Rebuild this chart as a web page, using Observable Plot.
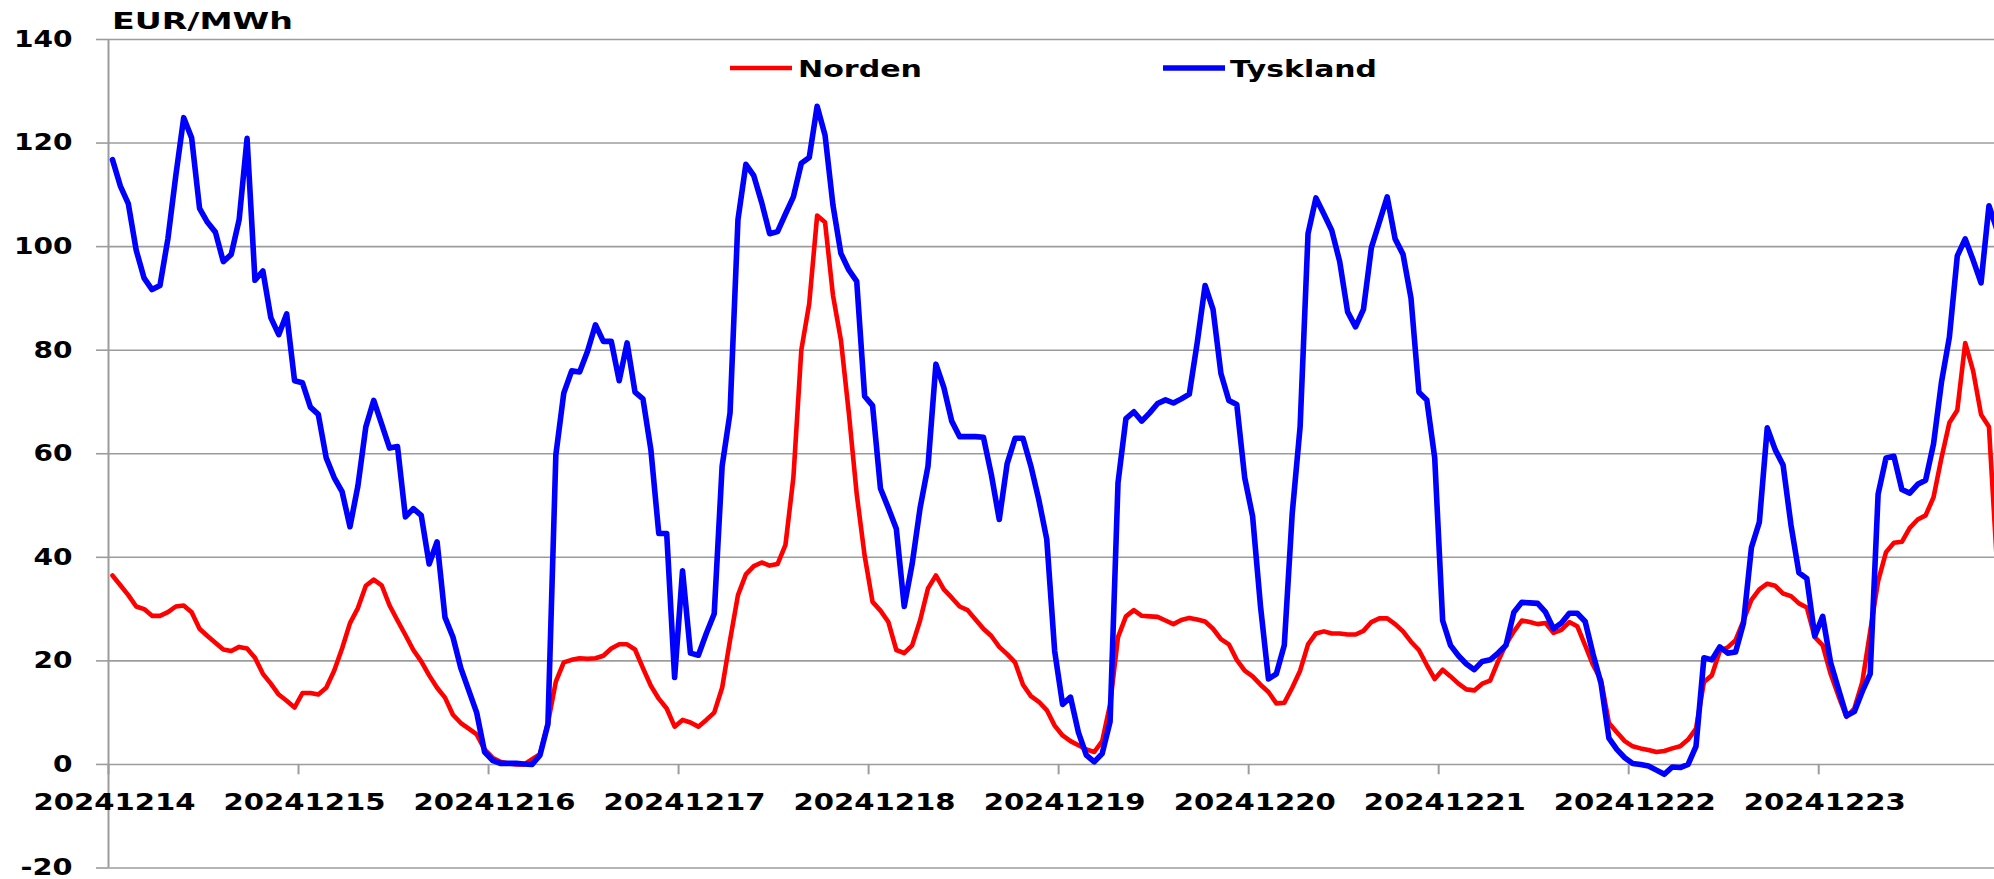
<!DOCTYPE html>
<html><head><meta charset="utf-8">
<script src="https://cdn.jsdelivr.net/npm/d3@7"></script>
<script src="https://cdn.jsdelivr.net/npm/@observablehq/plot@0.6"></script>
<style>
html,body{margin:0;padding:0;background:#fff;overflow:hidden}
#chart svg{display:block}
</style></head><body><div id="chart"></div>
<script>
const unitLabel = "EUR/MWh";
const seriesNames = ["Norden", "Tyskland"];
const seriesColors = ["#ff0000", "#0000ff"];
const dayLabels = ["20241214","20241215","20241216","20241217","20241218","20241219","20241220","20241221","20241222","20241223"];
const yTicks = [-20, 0, 20, 40, 60, 80, 100, 120, 140];

// hourly prices, hour 0 = 2024-12-14 00:00
const norden = [
36.5,34.6,32.7,30.5,30.0,28.7,28.7,29.4,30.5,30.7,29.4,26.2,24.8,23.5,22.2,21.9,22.7,22.4,20.6,17.5,15.6,13.5,12.3,11.0,
13.8,13.8,13.5,14.8,18.1,22.4,27.3,30.2,34.5,35.7,34.6,30.7,27.8,25.0,22.1,19.9,17.2,14.8,12.9,9.6,8.0,6.9,5.8,2.9,
1.3,0.5,0.2,0.0,0.0,1.0,2.0,8.0,16.0,19.7,20.2,20.5,20.4,20.5,21.0,22.4,23.2,23.2,22.2,18.6,15.2,12.7,10.8,7.3,
8.6,8.1,7.3,8.6,10.0,14.8,24.0,32.7,36.7,38.3,39.0,38.4,38.7,42.4,55.4,80.0,89.0,106.0,104.7,90.6,82.0,67.9,52.2,40.3,
31.4,29.7,27.5,22.1,21.5,23.0,27.8,34.0,36.5,33.8,32.2,30.5,29.8,28.0,26.2,24.8,22.7,21.3,19.7,15.4,13.2,12.1,10.5,7.5,
5.6,4.5,3.7,2.9,2.4,4.5,11.6,24.6,28.6,29.8,28.7,28.6,28.5,27.8,27.1,27.9,28.3,28.0,27.6,26.2,24.2,23.2,20.2,18.1,
17.0,15.4,14.0,11.8,11.9,14.8,18.1,23.2,25.3,25.7,25.3,25.3,25.1,25.1,25.8,27.5,28.2,28.2,27.1,25.7,23.7,22.1,19.2,16.5,
18.3,17.0,15.6,14.5,14.3,15.6,16.2,19.9,23.2,25.7,27.8,27.5,27.1,27.3,25.4,26.0,27.5,26.7,23.0,19.2,16.3,8.0,6.2,4.5,
3.5,3.1,2.8,2.4,2.6,3.1,3.5,4.8,6.9,15.9,17.2,21.9,22.6,24.0,27.8,31.8,33.8,34.9,34.5,33.0,32.5,31.1,30.3,24.6,
23.0,17.5,13.2,9.2,10.8,15.9,25.7,35.4,41.0,42.8,43.0,45.7,47.3,48.1,51.6,59.2,66.0,68.4,81.4,76.0,67.6,65.2,39.0
];
const tyskland = [
116.8,111.7,108.3,99.3,93.9,91.7,92.5,101.5,113.7,124.9,121.0,107.4,104.7,102.8,97.1,98.5,105.2,120.9,93.5,95.3,86.3,83.0,87.0,74.1,
73.7,69.0,67.6,59.2,55.4,52.7,45.9,53.8,65.2,70.3,65.7,61.1,61.4,47.8,49.4,48.1,38.7,43.0,28.4,24.6,18.6,14.3,10.0,2.4,
0.8,0.2,0.2,0.2,0.1,0.0,1.8,7.8,59.8,71.7,76.0,75.8,79.8,84.9,81.7,81.7,74.1,81.4,71.9,70.6,60.8,44.6,44.6,16.8,
37.4,21.5,21.1,25.3,29.1,57.6,67.9,105.2,115.9,113.7,108.5,102.5,102.9,106.3,109.6,116.1,117.2,127.1,121.5,108.0,98.7,95.5,93.3,71.1,
69.3,53.3,49.5,45.5,30.5,38.7,49.5,57.6,77.3,72.8,66.3,63.3,63.3,63.3,63.2,56.0,47.3,58.1,63.0,63.0,57.6,51.1,43.5,21.9,
11.6,13.0,6.2,1.8,0.5,2.1,8.3,54.4,66.8,68.1,66.3,67.9,69.7,70.4,69.8,70.6,71.5,81.4,92.5,87.9,75.5,70.3,69.5,55.4,
47.9,30.5,16.5,17.5,23.0,48.4,65.2,102.5,109.4,106.3,103.1,97.1,87.4,84.5,87.9,99.8,104.7,109.6,101.5,98.5,90.1,71.9,70.4,59.2,
27.8,23.0,21.0,19.4,18.3,19.9,20.2,21.5,23.0,29.4,31.3,31.2,31.1,29.4,26.2,27.3,29.2,29.2,27.6,21.3,15.7,5.1,2.9,1.3,
0.2,0.0,-0.3,-1.1,-1.9,-0.5,-0.6,0.0,3.5,20.6,20.2,22.7,21.5,21.7,27.3,41.9,46.8,65.0,60.8,57.8,46.2,37.0,35.9,24.8,
28.6,19.7,14.5,9.4,10.2,14.1,17.5,52.2,59.2,59.5,53.1,52.4,54.1,54.9,61.9,73.8,82.5,98.2,101.5,97.4,93.0,107.9,103.3
];

const nordenRows = norden.map((v, i) => ({hour: i + 0.5, value: v}));
const tysklandRows = tyskland.map((v, i) => ({hour: i + 0.5, value: v}));
const dayTicks = dayLabels.map((d, i) => ({hour: i * 24, label: d}));

const FONT = "'DejaVu Sans', Verdana, sans-serif";
const GRID = "#9c9c9c";

const plot = Plot.plot({
  width: 1994, height: 879,
  marginLeft: 108, marginRight: 0, marginTop: 39, marginBottom: 11.5,
  style: {fontFamily: FONT, fontSize: "23px", fontWeight: "bold", background: "#fff", color: "#000", overflow: "hidden"},
  x: {domain: [0, 238.2], axis: null},
  y: {domain: [-20, 140], axis: null},
  marks: [
    Plot.gridY(yTicks, {stroke: GRID, strokeOpacity: 1, strokeWidth: 1.6}),
    Plot.axisY(yTicks, {label: null, tickSize: 12, tickPadding: 24, stroke: GRID, strokeWidth: 1.6, tickFormat: d => String(d), fontSize: 23, fontWeight: "bold", fill: "#000"}),
    Plot.ruleX([0], {stroke: GRID, strokeWidth: 2}),
    Plot.ruleX(dayTicks, {x: "hour", y1: 0, y2: -2, stroke: GRID, strokeWidth: 2}),
    Plot.text(dayTicks, {x: "hour", y: 0, dy: 38, dx: 6, text: "label", fontSize: 23, fontWeight: "bold", fill: "#000"}),
    Plot.line(nordenRows, {x: "hour", y: "value", stroke: seriesColors[0], strokeWidth: 4.6, clip: true, strokeLinejoin: "round"}),
    Plot.line(tysklandRows, {x: "hour", y: "value", stroke: seriesColors[1], strokeWidth: 5.6, clip: true, strokeLinejoin: "round"})
  ]
});

const svg = d3.select(plot);
// stretch text horizontally to match the wide lettering of the original
const perChar = 19.5;
svg.selectAll("g[aria-label='y-axis tick label'] text").each(function() {
  const t = this.textContent;
  let w = 0;
  for (const c of t) w += (c === "-" ? 13 : perChar);
  this.setAttribute("textLength", w);
  this.setAttribute("lengthAdjust", "spacingAndGlyphs");
});
svg.selectAll("g[aria-label='text'] text").each(function() {
  this.setAttribute("textLength", 162);
  this.setAttribute("lengthAdjust", "spacingAndGlyphs");
});

// unit label
svg.append("text").attr("x", 112).attr("y", 28.5).attr("text-anchor", "start")
  .attr("font-family", FONT).attr("font-size", 23).attr("font-weight", "bold").attr("fill", "#000")
  .attr("textLength", 181).attr("lengthAdjust", "spacingAndGlyphs").text(unitLabel);

// legend
const legend = [
  {x1: 730, x2: 792, tx: 798, tl: 124, w: 4.6},
  {x1: 1163, x2: 1225, tx: 1230, tl: 147, w: 5.6}
];
legend.forEach((l, i) => {
  svg.append("line").attr("x1", l.x1).attr("x2", l.x2).attr("y1", 68).attr("y2", 68)
    .attr("stroke", seriesColors[i]).attr("stroke-width", l.w);
  svg.append("text").attr("x", l.tx).attr("y", 76.5).attr("text-anchor", "start")
    .attr("font-family", FONT).attr("font-size", 23).attr("font-weight", "bold").attr("fill", "#000")
    .attr("textLength", l.tl).attr("lengthAdjust", "spacingAndGlyphs").text(seriesNames[i]);
});

document.getElementById("chart").appendChild(plot);
</script>
</body></html>
